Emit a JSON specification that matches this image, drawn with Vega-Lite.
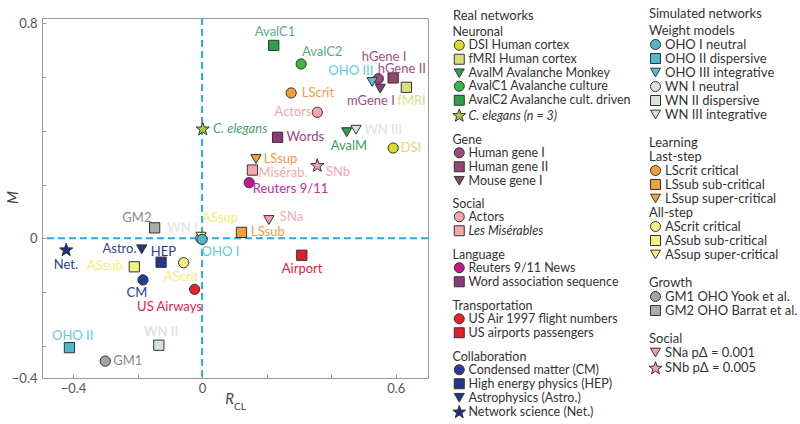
{
  "$schema": "https://vega.github.io/schema/vega-lite/v6.json",
  "width": 386,
  "height": 360,
  "autosize": {"type": "none"},
  "padding": {"left": 42, "top": 18, "right": 372, "bottom": 46},
  "title": {"text": "CL", "orient": "bottom", "anchor": "start", "frame": "group", "offset": -18, "dx": 192, "fontSize": 10, "fontWeight": "normal", "color": "#444", "font": "Lato"},
  "config": {
    "font": "Lato",
    "view": {"stroke": "#9a9a9a", "strokeWidth": 1},
    "axis": {"domainColor": "#9a9a9a", "tickColor": "#9a9a9a", "labelColor": "#555", "labelFontSize": 13, "labelFont": "Lato", "grid": false, "tickSize": -4, "titleFont": "Lato", "titleFontStyle": "italic", "titleFontWeight": "normal", "titleFontSize": 15, "titleColor": "#444"}
  },
  "datasets": {
    "origin": [{"v": 0}],
    "real": [
      {"name": "DSI Human cortex", "label": "DSI", "x": 0.592, "y": 0.336, "lx": 0.647, "ly": 0.336},
      {"name": "fMRI Human cortex", "label": "fMRI", "x": 0.633, "y": 0.562, "lx": 0.649, "ly": 0.511},
      {"name": "AvalM Avalanche Monkey", "label": "AvalM", "x": 0.448, "y": 0.395, "lx": 0.455, "ly": 0.344},
      {"name": "AvalC1 Avalanche culture", "label": "AvalC2", "x": 0.307, "y": 0.649, "lx": 0.372, "ly": 0.693},
      {"name": "AvalC2 Avalanche cult. driven", "label": "AvalC1", "x": 0.222, "y": 0.718, "lx": 0.226, "ly": 0.768},
      {"name": "C. elegans (n = 3)", "label": "C. elegans", "x": 0.002, "y": 0.406, "lx": 0.118, "ly": 0.407},
      {"name": "Human gene I", "label": "hGene I", "x": 0.546, "y": 0.594, "lx": 0.564, "ly": 0.675},
      {"name": "Human gene II", "label": "hGene II", "x": 0.592, "y": 0.597, "lx": 0.619, "ly": 0.63},
      {"name": "Mouse gene I", "label": "mGene I", "x": 0.552, "y": 0.557, "lx": 0.523, "ly": 0.511},
      {"name": "Actors", "label": "Actors", "x": 0.357, "y": 0.469, "lx": 0.282, "ly": 0.47},
      {"name": "Les Misérables", "label": "Misérab.", "x": 0.156, "y": 0.254, "lx": 0.251, "ly": 0.243},
      {"name": "Reuters 9/11 News", "label": "Reuters 9/11", "x": 0.146, "y": 0.207, "lx": 0.274, "ly": 0.184},
      {"name": "Word association sequence", "label": "Words", "x": 0.234, "y": 0.376, "lx": 0.32, "ly": 0.377},
      {"name": "US Air 1997 flight numbers", "label": "US Airways", "x": -0.023, "y": -0.19, "lx": -0.101, "ly": -0.256},
      {"name": "US airports passengers", "label": "Airport", "x": 0.309, "y": -0.063, "lx": 0.31, "ly": -0.114},
      {"name": "Condensed matter (CM)", "label": "CM", "x": -0.183, "y": -0.155, "lx": -0.202, "ly": -0.204},
      {"name": "High energy physics (HEP)", "label": "HEP", "x": -0.127, "y": -0.089, "lx": -0.12, "ly": -0.051},
      {"name": "Astrophysics (Astro.)", "label": "Astro.", "x": -0.187, "y": -0.041, "lx": -0.256, "ly": -0.04},
      {"name": "Network science (Net.)", "label": "Net.", "x": -0.421, "y": -0.044, "lx": -0.422, "ly": -0.099}
    ],
    "sim": [
      {"name": "OHO II dispersive", "label": "OHO II", "x": -0.411, "y": -0.407, "lx": -0.401, "ly": -0.364},
      {"name": "OHO III integrative", "label": "OHO III", "x": 0.527, "y": 0.582, "lx": 0.461, "ly": 0.623},
      {"name": "WN II dispersive", "label": "WN II", "x": -0.134, "y": -0.398, "lx": -0.127, "ly": -0.349},
      {"name": "WN III integrative", "label": "WN III", "x": 0.477, "y": 0.404, "lx": 0.561, "ly": 0.403},
      {"name": "LScrit critical", "label": "LScrit", "x": 0.276, "y": 0.541, "lx": 0.359, "ly": 0.541},
      {"name": "LSsub sub-critical", "label": "LSsub", "x": 0.122, "y": 0.022, "lx": 0.204, "ly": 0.023},
      {"name": "LSsup super-critical", "label": "LSsup", "x": 0.167, "y": 0.295, "lx": 0.243, "ly": 0.295},
      {"name": "AScrit critical", "label": "AScrit", "x": -0.057, "y": -0.091, "lx": -0.065, "ly": -0.144},
      {"name": "ASsub sub-critical", "label": "ASsub", "x": -0.21, "y": -0.106, "lx": -0.301, "ly": -0.103},
      {"name": "GM1 OHO Yook et al.", "label": "GM1", "x": -0.3, "y": -0.457, "lx": -0.23, "ly": -0.457},
      {"name": "GM2 OHO Barrat et al.", "label": "GM2", "x": -0.147, "y": 0.039, "lx": -0.202, "ly": 0.076},
      {"name": "SNa pΔ = 0.001", "label": "SNa", "x": 0.207, "y": 0.068, "lx": 0.277, "ly": 0.079},
      {"name": "SNb pΔ = 0.005", "label": "SNb", "x": 0.357, "y": 0.27, "lx": 0.421, "ly": 0.247},
      {"name": "WN I neutral", "label": "WN I", "x": -0.004, "y": 0.0, "lx": -0.061, "ly": 0.038},
      {"name": "ASsup super-critical", "label": "ASsup", "x": -0.003, "y": 0.006, "lx": 0.056, "ly": 0.076},
      {"name": "OHO I neutral", "label": "OHO I", "x": 0.0, "y": -0.004, "lx": 0.057, "ly": -0.051}
    ]
  },
  "layer": [
    {
      "data": {"name": "origin"},
      "mark": {"type": "rule", "color": "#2aa8df", "strokeWidth": 2, "strokeDash": [7, 4]},
      "encoding": {
        "x": {"field": "v", "type": "quantitative", "scale": {"domain": [-0.496, 0.7], "nice": false, "zero": false},
          "axis": {"values": [-0.4, -0.2, 0, 0.2, 0.4, 0.6], "labelExpr": "datum.value == -0.4 ? '−0.4' : datum.value == 0 ? '0' : datum.value == 0.6 ? '0.6' : ''", "labelPadding": 8, "title": "R", "titleX": 187, "titleY": 20, "titleAlign": "center", "titleBaseline": "middle"}}
      }
    },
    {
      "data": {"name": "origin"},
      "mark": {"type": "rule", "color": "#2aa8df", "strokeWidth": 2, "strokeDash": [7, 4]},
      "encoding": {
        "y": {"field": "v", "type": "quantitative", "scale": {"domain": [-0.52, 0.82], "nice": false, "zero": false},
          "axis": {"values": [-0.52, -0.4, -0.2, 0, 0.2, 0.4, 0.6, 0.8], "labelExpr": "datum.value < -0.5 ? '−0.4' : datum.value == 0 ? '0' : datum.value == 0.8 ? '0.8' : ''", "labelPadding": 9, "title": "M", "titleX": -30, "titleY": 179, "titleAlign": "center", "titleBaseline": "middle"}}
      }
    },
    {
      "data": {"name": "real"},
      "layer": [
        {
          "mark": {"type": "point", "filled": true, "size": 105, "stroke": "#333", "strokeWidth": 1, "opacity": 1},
          "encoding": {
            "x": {"field": "x", "type": "quantitative", "scale": {"domain": [-0.496, 0.7], "nice": false, "zero": false},
              "axis": {"values": [-0.4, -0.2, 0, 0.2, 0.4, 0.6], "labelExpr": "datum.value == -0.4 ? '−0.4' : datum.value == 0 ? '0' : datum.value == 0.6 ? '0.6' : ''", "labelPadding": 8, "title": "R", "titleX": 187, "titleY": 20, "titleAlign": "center", "titleBaseline": "middle"}},
            "y": {"field": "y", "type": "quantitative", "scale": {"domain": [-0.52, 0.82], "nice": false, "zero": false},
              "axis": {"values": [-0.52, -0.4, -0.2, 0, 0.2, 0.4, 0.6, 0.8], "labelExpr": "datum.value < -0.5 ? '−0.4' : datum.value == 0 ? '0' : datum.value == 0.8 ? '0.8' : ''", "labelPadding": 9, "title": "M", "titleX": -30, "titleY": 179, "titleAlign": "center", "titleBaseline": "middle"}},
            "color": {"field": "name", "type": "nominal",
              "scale": {
                "domain": ["Neuronal", "DSI Human cortex", "fMRI Human cortex", "AvalM Avalanche Monkey", "AvalC1 Avalanche culture", "AvalC2 Avalanche cult. driven", "C. elegans (n = 3)", " ", "Gene", "Human gene I", "Human gene II", "Mouse gene I", "  ", "Social", "Actors", "Les Misérables", "   ", "Language", "Reuters 9/11 News", "Word association sequence", "    ", "Transportation", "US Air 1997 flight numbers", "US airports passengers", "     ", "Collaboration", "Condensed matter (CM)", "High energy physics (HEP)", "Astrophysics (Astro.)", "Network science (Net.)"],
                "range": ["transparent", "#d9d92e", "#d8e07c", "#2f9e50", "#3ab54a", "#2da24a", "#a9c93b", "transparent", "transparent", "#9a4c7c", "#93466f", "#8e3e70", "transparent", "transparent", "#f4a5a8", "#f3a7a9", "transparent", "transparent", "#c21a8e", "#8c3a78", "transparent", "transparent", "#e8202a", "#e01e2c", "transparent", "transparent", "#263c98", "#22368e", "#25378c", "#1e2d86"]
              },
              "legend": {"orient": "none", "direction": "vertical", "legendX": 411, "legendY": -8, "title": "Real networks", "titleFont": "Lato", "titleFontSize": 13, "titleFontWeight": "normal", "titleColor": "#333", "titlePadding": 3, "labelFont": "Lato", "labelFontSize": 12.5, "labelColor": "#333", "labelLimit": 300, "labelOffset": 3, "symbolSize": 100, "symbolStrokeColor": "#333", "symbolStrokeWidth": 1, "symbolOpacity": 1, "rowPadding": -1.5, "padding": 0,
                "encode": {"labels": {"update": {"dx": {"signal": "indexof(['Neuronal','Gene','Social','Language','Transportation','Collaboration'], datum.label) >= 0 ? -16 : 0"}, "fontSize": {"signal": "trim(datum.label) == '' ? 7 : 12.5"}, "fontStyle": {"signal": "datum.label == 'Les Misérables' || datum.label == 'C. elegans (n = 3)' ? 'italic' : 'normal'"}}}}}
            },
            "shape": {"field": "name", "type": "nominal",
              "scale": {
                "domain": ["Neuronal", "DSI Human cortex", "fMRI Human cortex", "AvalM Avalanche Monkey", "AvalC1 Avalanche culture", "AvalC2 Avalanche cult. driven", "C. elegans (n = 3)", " ", "Gene", "Human gene I", "Human gene II", "Mouse gene I", "  ", "Social", "Actors", "Les Misérables", "   ", "Language", "Reuters 9/11 News", "Word association sequence", "    ", "Transportation", "US Air 1997 flight numbers", "US airports passengers", "     ", "Collaboration", "Condensed matter (CM)", "High energy physics (HEP)", "Astrophysics (Astro.)", "Network science (Net.)"],
                "range": ["M0,0", "circle", "square", "triangle-down", "circle", "square", "M0,-1.35L0.323,-0.445L1.284,-0.417L0.523,0.17L0.794,1.092L0,0.55L-0.794,1.092L-0.523,0.17L-1.284,-0.417L-0.323,-0.445Z", "M0,0", "M0,0", "circle", "square", "triangle-down", "M0,0", "M0,0", "circle", "square", "M0,0", "M0,0", "circle", "square", "M0,0", "M0,0", "circle", "square", "M0,0", "M0,0", "circle", "square", "triangle-down", "M0,-1.35L0.323,-0.445L1.284,-0.417L0.523,0.17L0.794,1.092L0,0.55L-0.794,1.092L-0.523,0.17L-1.284,-0.417L-0.323,-0.445Z"]
              },
              "legend": {"orient": "none", "direction": "vertical", "legendX": 411, "legendY": -8, "title": "Real networks", "titleFont": "Lato", "titleFontSize": 13, "titleFontWeight": "normal", "titleColor": "#333", "titlePadding": 3, "labelFont": "Lato", "labelFontSize": 12.5, "labelColor": "#333", "labelLimit": 300, "labelOffset": 3, "symbolSize": 100, "symbolStrokeColor": "#333", "symbolStrokeWidth": 1, "symbolOpacity": 1, "rowPadding": -1.5, "padding": 0,
                "encode": {"labels": {"update": {"dx": {"signal": "indexof(['Neuronal','Gene','Social','Language','Transportation','Collaboration'], datum.label) >= 0 ? -16 : 0"}, "fontSize": {"signal": "trim(datum.label) == '' ? 7 : 12.5"}, "fontStyle": {"signal": "datum.label == 'Les Misérables' || datum.label == 'C. elegans (n = 3)' ? 'italic' : 'normal'"}}}}}
            }
          }
        },
        {
          "transform": [{"filter": "datum.label != 'C. elegans'"}],
          "mark": {"type": "text", "fontSize": 13, "font": "Lato", "align": "center", "baseline": "middle"},
          "encoding": {
            "x": {"field": "lx", "type": "quantitative", "scale": {"domain": [-0.496, 0.7], "nice": false, "zero": false},
              "axis": {"values": [-0.4, -0.2, 0, 0.2, 0.4, 0.6], "labelExpr": "datum.value == -0.4 ? '−0.4' : datum.value == 0 ? '0' : datum.value == 0.6 ? '0.6' : ''", "labelPadding": 8, "title": "R", "titleX": 187, "titleY": 20, "titleAlign": "center", "titleBaseline": "middle"}},
            "y": {"field": "ly", "type": "quantitative", "scale": {"domain": [-0.52, 0.82], "nice": false, "zero": false},
              "axis": {"values": [-0.52, -0.4, -0.2, 0, 0.2, 0.4, 0.6, 0.8], "labelExpr": "datum.value < -0.5 ? '−0.4' : datum.value == 0 ? '0' : datum.value == 0.8 ? '0.8' : ''", "labelPadding": 9, "title": "M", "titleX": -30, "titleY": 179, "titleAlign": "center", "titleBaseline": "middle"}},
            "text": {"field": "label"},
            "fill": {"field": "label", "type": "nominal", "legend": null,
              "scale": {"domain": ["DSI", "fMRI", "AvalM", "AvalC1", "AvalC2", "C. elegans", "hGene I", "hGene II", "mGene I", "Actors", "Misérab.", "Reuters 9/11", "Words", "US Airways", "Airport", "CM", "HEP", "Astro.", "Net."],
                "range": ["#dede6a", "#d8e08a", "#3f9e66", "#5aac82", "#5aac82", "#4f9d70", "#a0507f", "#a0507f", "#a0507f", "#f4a8aa", "#f4a8aa", "#c0309a", "#9a3c86", "#e8204a", "#e0203c", "#2c3c94", "#2c3c94", "#3c3f94", "#2c3c94"]}}
          }
        },
        {
          "transform": [{"filter": "datum.label == 'C. elegans'"}],
          "mark": {"type": "text", "fontSize": 13, "font": "Lato", "fontStyle": "italic", "align": "center", "baseline": "middle", "color": "#4f9d70"},
          "encoding": {
            "x": {"field": "lx", "type": "quantitative", "scale": {"domain": [-0.496, 0.7], "nice": false, "zero": false},
              "axis": {"values": [-0.4, -0.2, 0, 0.2, 0.4, 0.6], "labelExpr": "datum.value == -0.4 ? '−0.4' : datum.value == 0 ? '0' : datum.value == 0.6 ? '0.6' : ''", "labelPadding": 8, "title": "R", "titleX": 187, "titleY": 20, "titleAlign": "center", "titleBaseline": "middle"}},
            "y": {"field": "ly", "type": "quantitative", "scale": {"domain": [-0.52, 0.82], "nice": false, "zero": false},
              "axis": {"values": [-0.52, -0.4, -0.2, 0, 0.2, 0.4, 0.6, 0.8], "labelExpr": "datum.value < -0.5 ? '−0.4' : datum.value == 0 ? '0' : datum.value == 0.8 ? '0.8' : ''", "labelPadding": 9, "title": "M", "titleX": -30, "titleY": 179, "titleAlign": "center", "titleBaseline": "middle"}},
            "text": {"field": "label"}
          }
        }
      ]
    },
    {
      "data": {"name": "sim"},
      "layer": [
        {
          "mark": {"type": "point", "filled": true, "size": 105, "stroke": "#333", "strokeWidth": 1, "opacity": 1},
          "encoding": {
            "x": {"field": "x", "type": "quantitative", "scale": {"domain": [-0.496, 0.7], "nice": false, "zero": false},
              "axis": {"values": [-0.4, -0.2, 0, 0.2, 0.4, 0.6], "labelExpr": "datum.value == -0.4 ? '−0.4' : datum.value == 0 ? '0' : datum.value == 0.6 ? '0.6' : ''", "labelPadding": 8, "title": "R", "titleX": 187, "titleY": 20, "titleAlign": "center", "titleBaseline": "middle"}},
            "y": {"field": "y", "type": "quantitative", "scale": {"domain": [-0.52, 0.82], "nice": false, "zero": false},
              "axis": {"values": [-0.52, -0.4, -0.2, 0, 0.2, 0.4, 0.6, 0.8], "labelExpr": "datum.value < -0.5 ? '−0.4' : datum.value == 0 ? '0' : datum.value == 0.8 ? '0.8' : ''", "labelPadding": 9, "title": "M", "titleX": -30, "titleY": 179, "titleAlign": "center", "titleBaseline": "middle"}},
            "color": {"field": "name", "type": "nominal",
              "scale": {
                "domain": ["Weight models", "OHO I neutral", "OHO II dispersive", "OHO III integrative", "WN I neutral", "WN II dispersive", "WN III integrative", " ", "Learning", "Last-step", "LScrit critical", "LSsub sub-critical", "LSsup super-critical", "All-step", "AScrit critical", "ASsub sub-critical", "ASsup super-critical", "  ", "Growth", "GM1 OHO Yook et al.", "GM2 OHO Barrat et al.", "   ", "Social", "SNa pΔ = 0.001", "SNb pΔ = 0.005"],
                "range": ["transparent", "#4db9c9", "#4db9c9", "#52c0d2", "#d4e6da", "#d4e6da", "#d4e6da", "transparent", "transparent", "transparent", "#f2a03c", "#f2a03c", "#f2a03c", "transparent", "#f7ef7e", "#f7ef7e", "#f7ef7e", "transparent", "transparent", "#a3a3a3", "#ababab", "transparent", "transparent", "#f0a0a6", "#f2a2a8"]
              },
              "legend": {"orient": "none", "direction": "vertical", "legendX": 607, "legendY": -10, "title": "Simulated networks", "titleFont": "Lato", "titleFontSize": 13, "titleFontWeight": "normal", "titleColor": "#333", "titlePadding": 3, "labelFont": "Lato", "labelFontSize": 13, "labelColor": "#333", "labelLimit": 300, "labelOffset": 3, "symbolSize": 100, "symbolStrokeColor": "#333", "symbolStrokeWidth": 1, "symbolOpacity": 1, "rowPadding": -1.1, "padding": 0,
                "encode": {"labels": {"update": {"dx": {"signal": "indexof(['Weight models','Learning','Last-step','All-step','Growth','Social'], datum.label) >= 0 ? -16 : 0"}}}}}
            },
            "shape": {"field": "name", "type": "nominal",
              "scale": {
                "domain": ["Weight models", "OHO I neutral", "OHO II dispersive", "OHO III integrative", "WN I neutral", "WN II dispersive", "WN III integrative", " ", "Learning", "Last-step", "LScrit critical", "LSsub sub-critical", "LSsup super-critical", "All-step", "AScrit critical", "ASsub sub-critical", "ASsup super-critical", "  ", "Growth", "GM1 OHO Yook et al.", "GM2 OHO Barrat et al.", "   ", "Social", "SNa pΔ = 0.001", "SNb pΔ = 0.005"],
                "range": ["M0,0", "circle", "square", "triangle-down", "circle", "square", "triangle-down", "M0,0", "M0,0", "M0,0", "circle", "square", "triangle-down", "M0,0", "circle", "square", "triangle-down", "M0,0", "M0,0", "circle", "square", "M0,0", "M0,0", "triangle-down", "M0,-1.35L0.323,-0.445L1.284,-0.417L0.523,0.17L0.794,1.092L0,0.55L-0.794,1.092L-0.523,0.17L-1.284,-0.417L-0.323,-0.445Z"]
              },
              "legend": {"orient": "none", "direction": "vertical", "legendX": 607, "legendY": -10, "title": "Simulated networks", "titleFont": "Lato", "titleFontSize": 13, "titleFontWeight": "normal", "titleColor": "#333", "titlePadding": 3, "labelFont": "Lato", "labelFontSize": 13, "labelColor": "#333", "labelLimit": 300, "labelOffset": 3, "symbolSize": 100, "symbolStrokeColor": "#333", "symbolStrokeWidth": 1, "symbolOpacity": 1, "rowPadding": -1.1, "padding": 0,
                "encode": {"labels": {"update": {"dx": {"signal": "indexof(['Weight models','Learning','Last-step','All-step','Growth','Social'], datum.label) >= 0 ? -16 : 0"}}}}}
            }
          }
        },
        {
          "mark": {"type": "text", "fontSize": 13, "font": "Lato", "align": "center", "baseline": "middle"},
          "encoding": {
            "x": {"field": "lx", "type": "quantitative", "scale": {"domain": [-0.496, 0.7], "nice": false, "zero": false},
              "axis": {"values": [-0.4, -0.2, 0, 0.2, 0.4, 0.6], "labelExpr": "datum.value == -0.4 ? '−0.4' : datum.value == 0 ? '0' : datum.value == 0.6 ? '0.6' : ''", "labelPadding": 8, "title": "R", "titleX": 187, "titleY": 20, "titleAlign": "center", "titleBaseline": "middle"}},
            "y": {"field": "ly", "type": "quantitative", "scale": {"domain": [-0.52, 0.82], "nice": false, "zero": false},
              "axis": {"values": [-0.52, -0.4, -0.2, 0, 0.2, 0.4, 0.6, 0.8], "labelExpr": "datum.value < -0.5 ? '−0.4' : datum.value == 0 ? '0' : datum.value == 0.8 ? '0.8' : ''", "labelPadding": 9, "title": "M", "titleX": -30, "titleY": 179, "titleAlign": "center", "titleBaseline": "middle"}},
            "text": {"field": "label"},
            "fill": {"field": "label", "type": "nominal", "legend": null,
              "scale": {"domain": ["OHO I", "OHO II", "OHO III", "WN I", "WN II", "WN III", "LScrit", "LSsub", "LSsup", "AScrit", "ASsub", "ASsup", "GM1", "GM2", "SNa", "SNb"],
                "range": ["#5fcddc", "#5fcddc", "#5fcddc", "#d6e6dc", "#d0e0d8", "#d6e6dc", "#f29a4a", "#f29a4a", "#f29a4a", "#f5ec7a", "#f5ec7a", "#f5ec7a", "#888888", "#888888", "#f4a8aa", "#f4a8aa"]}}
          }
        }
      ]
    }
  ],
  "resolve": {"scale": {"color": "independent", "shape": "independent", "fill": "independent"}}
}
